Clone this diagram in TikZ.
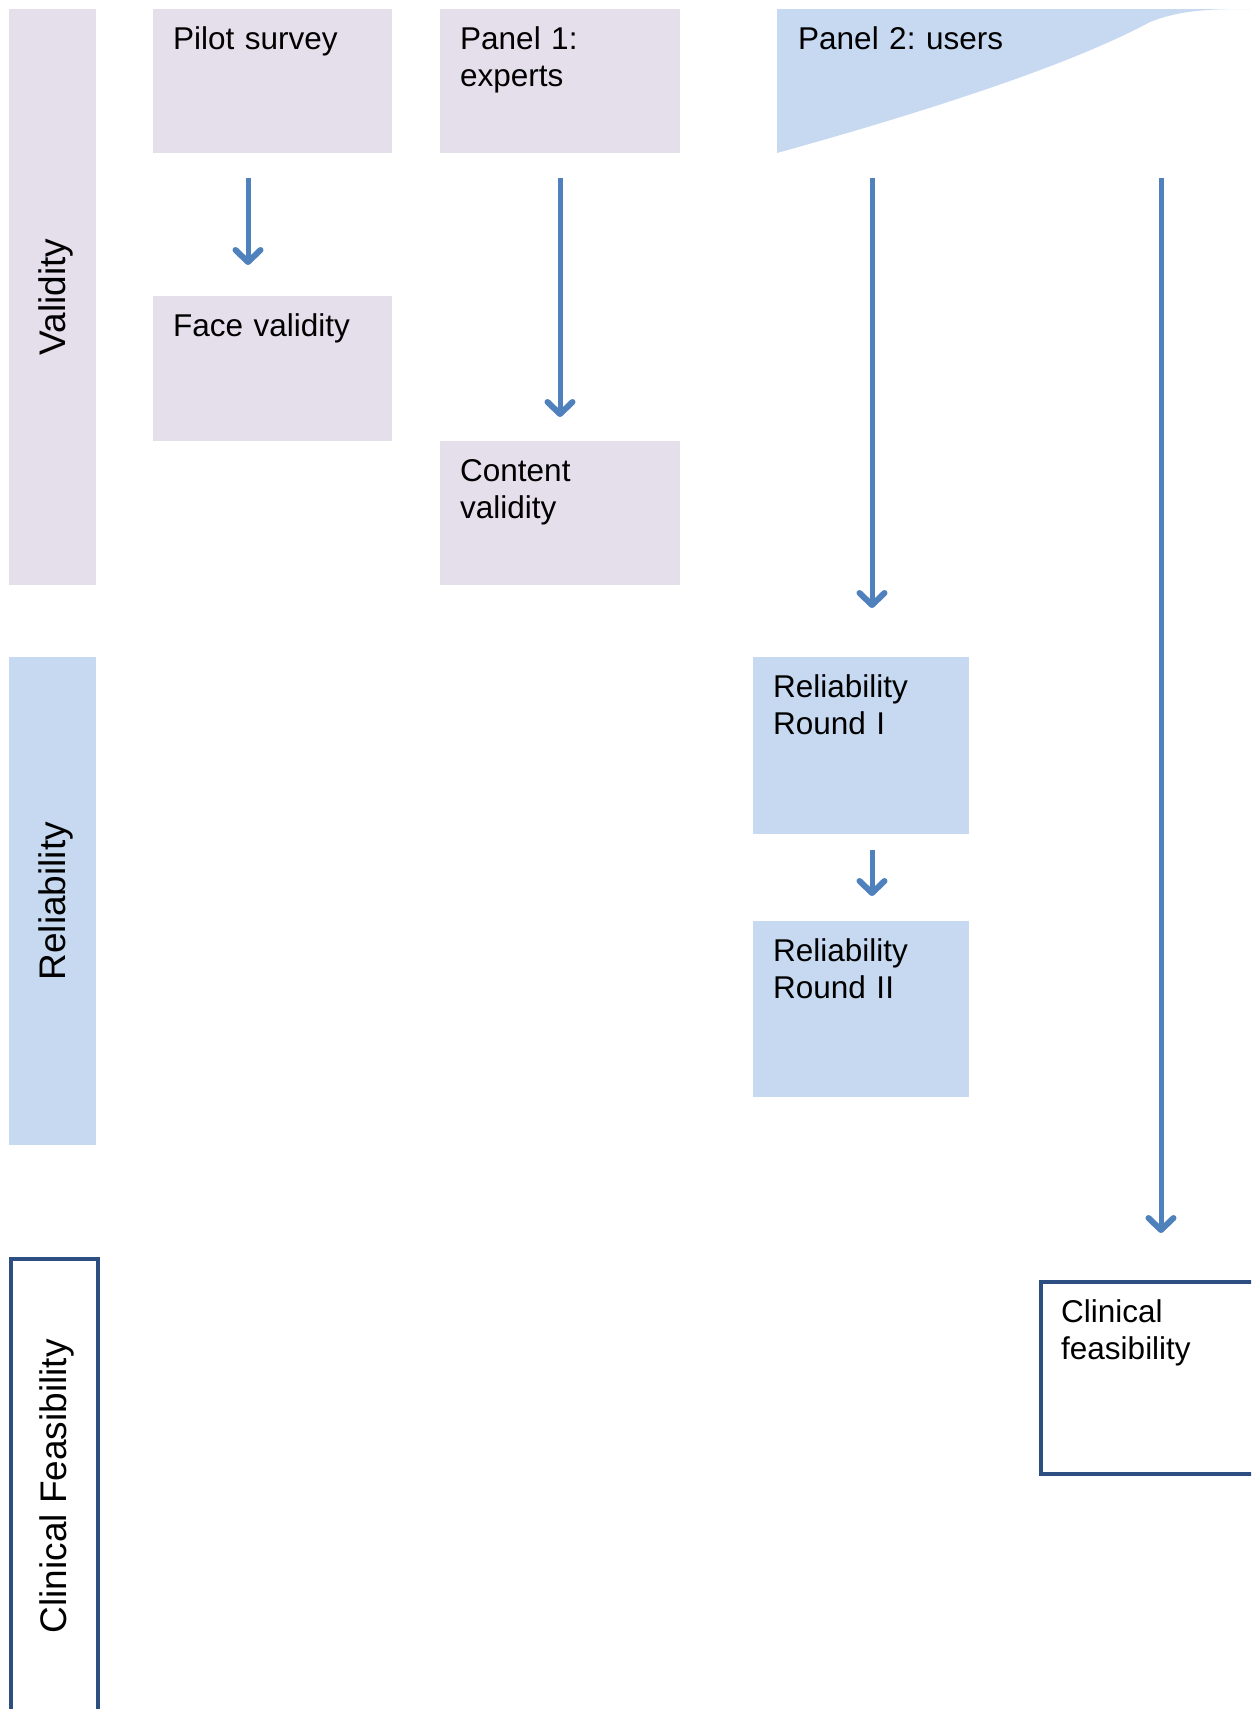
\documentclass[tikz,border=0pt]{standalone}
\usepackage{fontspec}
\setmainfont{Liberation Sans}
\usetikzlibrary{arrows.meta}

\definecolor{lilac}{HTML}{E5DFEC}
\definecolor{paleblue}{HTML}{C6D9F1}
\definecolor{flowblue}{HTML}{4F81BD}
\definecolor{darkframe}{HTML}{2C4E80}

\tikzset{
	stagelilac/.style={fill=lilac, draw=none},
	stageblue/.style={fill=paleblue, draw=none},
	stageframe/.style={fill=white, draw=darkframe, line width=3.5pt},
	stagetxt/.style={anchor=north west, inner sep=0pt, text width=200pt, align=left,
		font=\fontsize{31.5}{37}\selectfont\frenchspacing, execute at begin node=\strut},
	bandtxt/.style={rotate=90, inner sep=0pt, font=\fontsize{37}{42}\selectfont},
	flow/.style={draw=flowblue, line width=5pt,
		-{Straight Barb[length=12pt,width=25pt,line width=6pt,round]}}
}

% box at (x,y) north west, size w x h, then its text
\newcommand{\stage}[7]{
	\node[#6, anchor=north west, outer sep=0pt, inner sep=0pt, minimum width=#4, minimum height=#5] (#1) at (#2,#3) {};
	\node[stagetxt] (#1txt) at ([shift={(20,14)}]#1.north west) {#7};
}

\begin{document}
\begin{tikzpicture}[x=1pt, y=-1pt]
\useasboundingbox (0,0) rectangle (1251,1709);
\clip (0,0) rectangle (1251,1709);

% bands on the left
\node[stagelilac, anchor=north west, minimum width=87, minimum height=576] (valband) at (9,9) {};
\node[stageblue, anchor=north west, minimum width=87, minimum height=488] (relband) at (9,657) {};
\node[stageframe, anchor=north west, minimum width=87, minimum height=455] (cfband) at (9,1257) {};
\node[bandtxt] (valtxt) at ([xshift=3pt]valband) {Validity};
\node[bandtxt] (reltxt) at ([xshift=3pt]relband) {Reliability};
\node[bandtxt] (cftxt) at ([xshift=3pt]cfband) {Clinical Feasibility};

% panel 2 (curved top)
\fill[paleblue] (777,153) .. controls (950,105) and (1080,60) .. (1150,22)
	.. controls (1180,10) and (1210,9) .. (1251,9) -- (777,9) -- cycle;
\node[stagetxt, text width=300pt] (panel2txt) at (798,23) {Panel 2: users};

\stage{pilot}{153}{9}{239}{144}{stagelilac}{Pilot survey}
\stage{face}{153}{296}{239}{145}{stagelilac}{Face validity}
\stage{panel1}{440}{9}{240}{144}{stagelilac}{Panel 1:\\experts}
\stage{content}{440}{441}{240}{144}{stagelilac}{Content\\validity}
\stage{rel1}{753}{657}{216}{177}{stageblue}{Reliability\\Round I}
\stage{rel2}{753}{921}{216}{176}{stageblue}{Reliability\\Round II}
\stage{clin}{1041}{1282}{240}{192}{stageframe}{Clinical\\feasibility}

\pgfmathsetmacro{\flAx}{248}
\pgfmathsetmacro{\flCx}{872}
\pgfmathsetmacro{\flDx}{1161}
\coordinate (p2a) at (\flCx,153);
\coordinate (p2b) at (\flDx,153);

\draw[flow, shorten <=25pt, shorten >=31pt] (pilot.south -| \flAx,0) -- (face.north -| \flAx,0);
\draw[flow, shorten <=25pt, shorten >=24pt] (panel1.south) -- (content.north);
\draw[flow, shorten <=25pt, shorten >=49pt] (p2a) -- (rel1.north -| p2a);
\draw[flow, shorten <=16pt, shorten >=25pt] (rel1.south -| p2a) -- (rel2.north -| p2a);
\draw[flow, shorten <=25pt, shorten >=49pt] (p2b) -- (clin.north -| p2b);
\end{tikzpicture}
\end{document}
